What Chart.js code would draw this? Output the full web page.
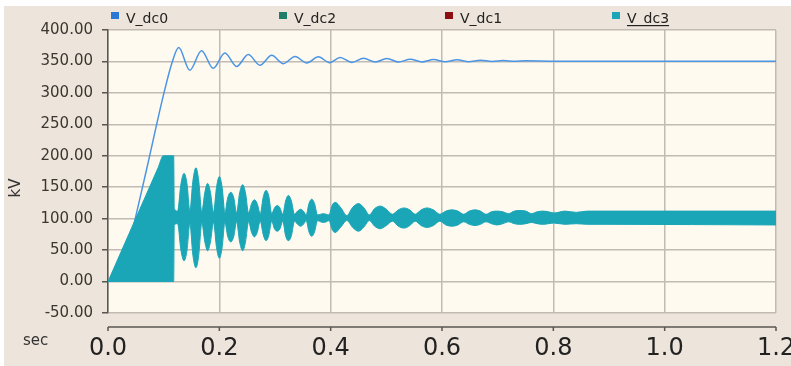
<!DOCTYPE html>
<html lang="en">
<head>
<meta charset="UTF-8">
<title>V_dc</title>
<script src="https://cdn.jsdelivr.net/npm/chart.js"></script>
<style>
  html, body { margin: 0; padding: 0; background: #fff; }
  canvas { display: block; }
</style>
</head>
<body>
<canvas id="vdcChart" width="791" height="366"></canvas>
<script>
// ---- values ----
const seriesNames = ["V_dc0", "V_dc2", "V_dc1", "V_dc3"];
const seriesColors = ["#2a78d6", "#1f7d68", "#8c1010", "#1aa6b7"];

const xTickValues = [0, 0.2, 0.4, 0.6, 0.8, 1.0, 1.2];
const yTickValues = [-50, 0, 50, 100, 150, 200, 250, 300, 350, 400];

// V_dc0 (kV) vs time (sec)
const vdc0Time = [0, 0.02, 0.03, 0.04, 0.05, 0.07, 0.1, 0.115, 0.127, 0.147, 0.168, 0.189, 0.210, 0.231, 0.252,
  0.273, 0.294, 0.315, 0.336, 0.357, 0.378, 0.398, 0.417, 0.438, 0.459, 0.48, 0.501, 0.522, 0.543, 0.564,
  0.585, 0.606, 0.627, 0.648, 0.669, 0.69, 0.71, 0.73, 0.75, 0.8, 1.2];
const vdc0Values = [0, 15, 38, 68, 104, 181, 298, 348, 372, 336, 367, 339, 363.5, 342, 361,
  344, 360, 346.5, 358, 347.5, 357.3, 348, 356.4, 348.5, 355, 349, 354.8, 349, 353.5, 349.3,
  353, 349.5, 352.5, 349.7, 352, 350, 351.5, 350.2, 351, 350.5, 350.3];

// V_dc3: fast oscillation, drawn as its upper / lower envelope
const vdc3Time = [
  0, 0.09, 0.0995, 0.117, 0.118, 0.119, 0.125,
  0.131, 0.1366, 0.142, 0.147, 0.1525, 0.158, 0.163, 0.1685,
  0.174, 0.179, 0.184, 0.1895, 0.195, 0.200, 0.205, 0.210,
  0.215, 0.2205, 0.226, 0.231, 0.2365, 0.242, 0.247, 0.2525,
  0.258, 0.263, 0.268, 0.2735, 0.279, 0.284, 0.289, 0.294,
  0.299, 0.304, 0.309, 0.314, 0.319, 0.324, 0.3295, 0.335,
  0.3405, 0.346, 0.351, 0.356, 0.361, 0.366, 0.371, 0.3765,
  0.382, 0.387, 0.392, 0.397, 0.4025, 0.408, 0.4185, 0.429,
  0.4395, 0.450, 0.460, 0.4695, 0.479, 0.489, 0.500, 0.511,
  0.5215, 0.532, 0.542, 0.552, 0.5625, 0.573, 0.5845, 0.596,
  0.607, 0.618, 0.6285, 0.639, 0.649, 0.6595, 0.669, 0.679,
  0.689, 0.699, 0.709, 0.7197, 0.730, 0.740, 0.7505, 0.761,
  0.771, 0.7817, 0.791, 0.801, 0.821, 0.841, 0.861, 0.9, 1.2];
const vdc3Upper = [
  0, 181, 200, 200, 200, 116, 112,
  155, 172, 155, 112, 160, 181, 160, 111,
  142, 156, 142, 110, 150, 167, 150, 110,
  133, 142, 133, 109, 141, 154, 141, 109,
  124, 130, 124, 108, 135, 145, 135, 108,
  117, 121, 117, 107, 128, 137, 128, 107,
  112, 115, 112, 106, 124, 131, 124, 106,
  107, 108, 107, 106, 121, 126, 117, 105,
  118, 124, 117, 106, 116, 120, 115, 107,
  114, 117, 114, 107, 114, 117, 114, 107,
  112, 114, 112, 107, 112, 114, 112, 107,
  111, 112, 111, 108, 112, 113, 112, 108,
  111, 112, 111, 109, 112, 110, 112, 112, 112];
const vdc3Lower = [
  0, 0, 0, 0, 0, 90, 92,
  50, 33, 50, 92, 42, 22, 42, 93,
  63, 49, 63, 94, 54, 37, 54, 94,
  72, 63, 72, 95, 63, 49, 63, 95,
  78, 71, 78, 96, 74, 65, 74, 96,
  84, 80, 84, 96, 73, 65, 73, 96,
  91, 88, 91, 97, 79, 72, 79, 97,
  95, 94, 95, 97, 83, 78, 87, 97,
  86, 80, 87, 97, 88, 84, 89, 96,
  88, 85, 89, 96, 89, 86, 89, 96,
  90, 88, 90, 95, 91, 89, 91, 95,
  92, 90, 92, 95, 92, 91, 92, 94,
  92, 91, 92, 93, 91, 92, 91, 91, 90];

const toPoints = (xs, ys) => xs.map((x, i) => ({ x: x, y: ys[i] }));

// backgrounds, separate time axis, legend and axis names
const frame = {
  id: "frame",
  beforeDraw(chart) {
    const { ctx, chartArea: a, width, height } = chart;
    ctx.save();
    ctx.fillStyle = "#ffffff";
    ctx.fillRect(0, 0, width, height);
    ctx.fillStyle = "#ede5db";
    ctx.fillRect(4, 6, width - 4, height - 6);
    ctx.fillStyle = "#fefaf0";
    ctx.fillRect(a.left, a.top, a.right - a.left, a.bottom - a.top);
    ctx.restore();
  },
  afterDraw(chart) {
    const { ctx, chartArea: a } = chart;
    const xs = chart.scales.x;
    ctx.save();

    // time axis sits below the plot area
    const axisY = 327;
    ctx.strokeStyle = "#5a5550";
    ctx.lineWidth = 1.5;
    ctx.beginPath();
    ctx.moveTo(a.left, axisY);
    ctx.lineTo(a.right, axisY);
    xs.ticks.forEach(t => {
      const px = xs.getPixelForValue(t.value);
      ctx.moveTo(px, axisY);
      ctx.lineTo(px, axisY + 4);
    });
    ctx.stroke();

    // legend
    const legendX = [111, 279, 445, 612];
    ctx.font = "14px 'DejaVu Sans'";
    ctx.textBaseline = "alphabetic";
    seriesNames.forEach((name, i) => {
      ctx.fillStyle = seriesColors[i];
      ctx.fillRect(legendX[i], 12, 8, 7);
      ctx.fillStyle = "#222";
      ctx.fillText(name, legendX[i] + 15, 23);
    });
    const w = ctx.measureText(seriesNames[3]).width;
    ctx.fillRect(legendX[3] + 15, 25, w, 1.2);

    // axis names
    ctx.fillStyle = "#333";
    ctx.font = "15px 'DejaVu Sans'";
    ctx.fillText("sec", 23, 345);
    ctx.translate(20, 188);
    ctx.rotate(-Math.PI / 2);
    ctx.textAlign = "center";
    ctx.fillText("kV", 0, 0);
    ctx.restore();
  }
};

const ctx = document.getElementById("vdcChart").getContext("2d");
new Chart(ctx, {
  type: "line",
  data: {
    datasets: [
      {
        label: seriesNames[0],
        data: toPoints(vdc0Time, vdc0Values),
        borderColor: "#4b95e4",
        borderWidth: 1.5,
        pointRadius: 0,
        cubicInterpolationMode: "monotone",
        fill: false,
        order: 3
      },
      { label: seriesNames[1], data: [], borderColor: seriesColors[1], pointRadius: 0, order: 2 },
      { label: seriesNames[2], data: [], borderColor: seriesColors[2], pointRadius: 0, order: 2 },
      {
        label: seriesNames[3],
        data: toPoints(vdc3Time, vdc3Upper),
        borderColor: seriesColors[3],
        backgroundColor: seriesColors[3],
        borderWidth: 1,
        pointRadius: 0,
        cubicInterpolationMode: "monotone",
        fill: "+1",
        order: 0
      },
      {
        label: seriesNames[3] + " low",
        data: toPoints(vdc3Time, vdc3Lower),
        borderColor: seriesColors[3],
        borderWidth: 1,
        pointRadius: 0,
        cubicInterpolationMode: "monotone",
        fill: false,
        order: 1
      }
    ]
  },
  options: {
    responsive: false,
    animation: false,
    events: [],
    layout: { padding: { left: 0, right: 15, top: 30, bottom: 0 } },
    plugins: {
      legend: { display: false },
      tooltip: { enabled: false }
    },
    scales: {
      x: {
        type: "linear",
        min: 0,
        max: 1.2,
        afterBuildTicks: s => { s.ticks = xTickValues.map(v => ({ value: v })); },
        afterFit: s => { s.height = 53; s.paddingLeft = 0; s.paddingRight = 0; },
        grid: { color: "#c2bbb3", lineWidth: 1.5, drawTicks: false },
        border: { display: false },
        ticks: {
          padding: 21,
          color: "#222",
          font: { family: "DejaVu Sans", size: 24 },
          maxRotation: 0,
          callback: v => Number(v).toFixed(1)
        }
      },
      y: {
        min: -50,
        max: 400,
        afterBuildTicks: s => { s.ticks = yTickValues.map(v => ({ value: v })); },
        afterFit: s => { s.width = 108; s.paddingTop = 0; s.paddingBottom = 0; },
        grid: { color: "#c2bbb3", lineWidth: 1.5, tickLength: 6, tickColor: "#5a5550", tickWidth: 1.5 },
        border: { color: "#5a5550", width: 1.5 },
        ticks: {
          padding: 9,
          color: "#3b3632",
          font: { family: "DejaVu Sans", size: 15 },
          callback: v => Number(v).toFixed(2)
        }
      }
    }
  },
  plugins: [frame]
});
</script>
</body>
</html>
